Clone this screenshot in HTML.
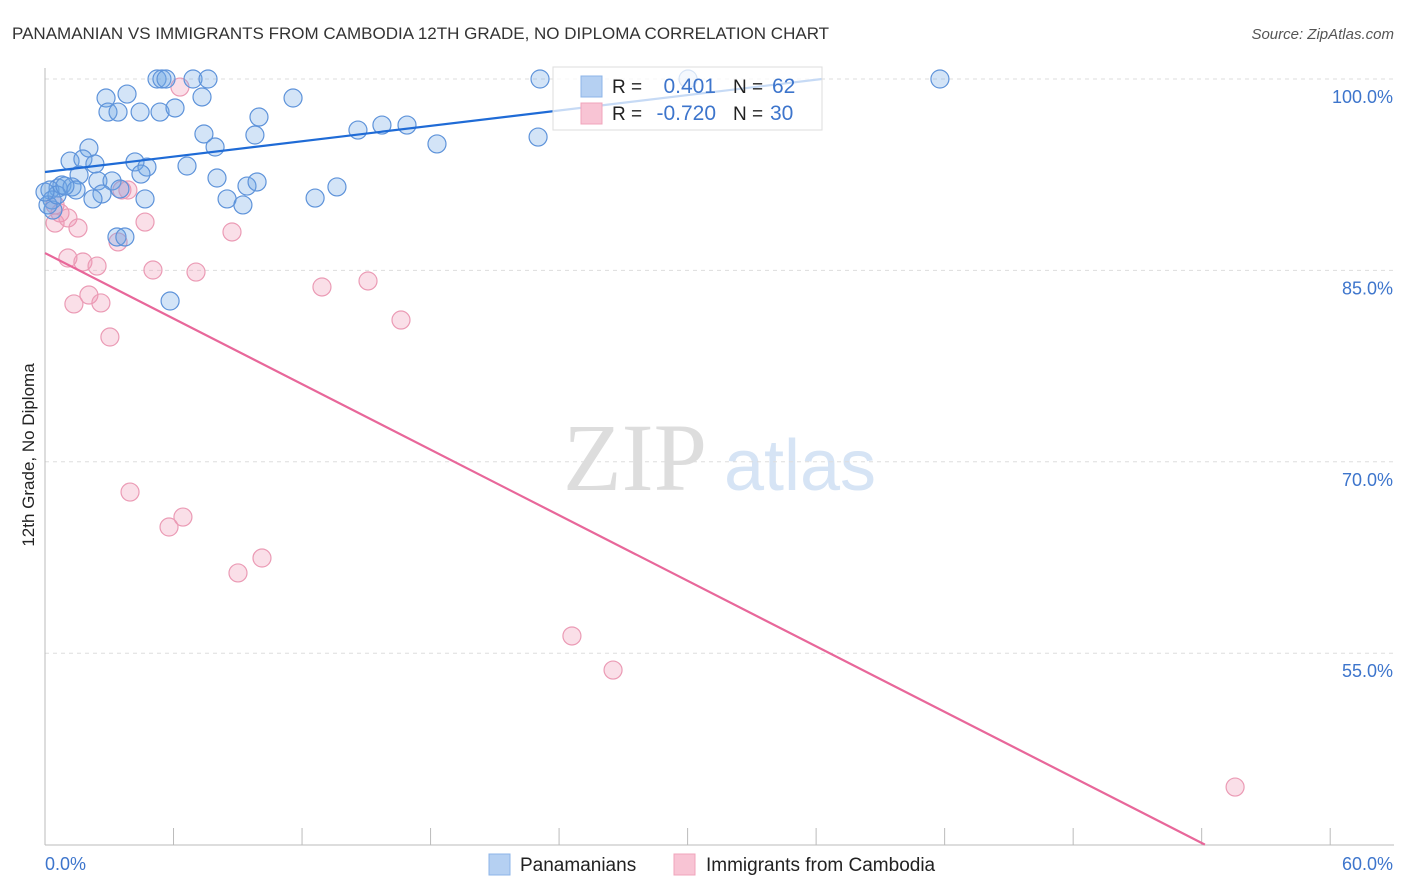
<!DOCTYPE html>
<html><head><meta charset="utf-8"><style>
body{margin:0;background:#fff;font-family:"Liberation Sans",sans-serif}
svg{display:block}
</style></head><body>
<svg id="chart" width="1406" height="892" xmlns="http://www.w3.org/2000/svg" font-family="Liberation Sans, sans-serif">
<text x="12" y="39" font-size="17" fill="#333">PANAMANIAN VS IMMIGRANTS FROM CAMBODIA 12TH GRADE, NO DIPLOMA CORRELATION CHART</text>
<text x="1394" y="39" font-size="15" fill="#555" font-style="italic" text-anchor="end">Source: ZipAtlas.com</text>
<text transform="translate(34,455) rotate(-90)" font-size="17" fill="#222" text-anchor="middle">12th Grade, No Diploma</text>
<g>
<text x="635" y="490" font-size="96" fill="#ddd" font-family="Liberation Serif, serif" text-anchor="middle">ZIP</text>
<text x="800" y="490" font-size="72" fill="#d6e4f5" text-anchor="middle">atlas</text>
</g>
<g id="grid"></g><g id="axes"></g><g id="marks"></g>
<g>
<rect x="553" y="67" width="269" height="63" fill="#fff" fill-opacity="0.75" stroke="#ddd"/>
<rect x="581" y="76" width="21" height="21" fill="#b5d0f2" stroke="#8db4e8"/>
<rect x="581" y="103" width="21" height="21" fill="#f8c4d4" stroke="#f0a4bb"/>
<text x="612" y="93" font-size="19" fill="#222">R = </text><text x="716" y="93" font-size="21" fill="#3d75cc" text-anchor="end">0.401</text>
<text x="733" y="93" font-size="19" fill="#222">N = </text><text x="772" y="93" font-size="21" fill="#3d75cc">62</text>
<text x="612" y="120" font-size="19" fill="#222">R = </text><text x="716" y="120" font-size="21" fill="#3d75cc" text-anchor="end">-0.720</text>
<text x="733" y="120" font-size="19" fill="#222">N = </text><text x="770" y="120" font-size="21" fill="#3d75cc">30</text>
</g>
<g>
<rect x="489" y="854" width="21" height="21" fill="#b5d0f2" stroke="#8db4e8"/>
<text x="520" y="871" font-size="19" fill="#222">Panamanians</text>
<rect x="674" y="854" width="21" height="21" fill="#f8c4d4" stroke="#f0a4bb"/>
<text x="706" y="871" font-size="19" fill="#222">Immigrants from Cambodia</text>
</g>
</svg>
<script>
const blueX=[5.23,5.46,5.65,6.91,7.61,23.11,30.02,41.78,2.85,3.83,11.58,2.94,3.41,4.44,5.37,6.07,7.33,9.99,7.42,9.80,14.61,15.73,16.90,18.30,23.02,7.94,2.05,1.17,1.77,2.33,4.20,4.76,6.63,4.48,1.59,0.61,0.79,1.26,2.47,3.13,3.50,1.45,2.66,2.24,8.03,9.43,9.90,12.61,13.63,4.67,8.50,9.24,3.36,3.73,5.84,0.23,0.33,0.37,0.14,0.56,0.93,0.0];
const blueY=[100,100,100,100,100,100,100,100,98.51,98.82,98.51,97.41,97.41,97.41,97.41,97.73,98.59,97.02,95.69,95.61,96.00,96.39,96.39,94.91,95.45,94.67,94.59,93.57,93.73,93.34,93.50,93.10,93.18,92.55,92.48,91.46,91.69,91.54,92.01,92.01,91.38,91.30,90.99,90.60,92.24,91.61,91.93,90.67,91.54,90.60,90.60,90.13,87.62,87.62,82.60,91.30,90.52,89.73,90.13,90.91,91.61,91.14];
const pinkX=[6.30,0.47,0.70,0.47,1.07,1.54,3.59,3.87,4.67,8.73,3.41,1.07,1.77,2.43,5.04,7.05,12.93,15.08,16.62,2.05,1.35,2.61,3.03,3.97,6.44,5.79,9.01,10.13,24.60,26.52,55.56];
const pinkY=[99.37,90.13,89.50,88.71,89.11,88.32,91.30,91.30,88.79,88.01,87.23,85.97,85.66,85.34,85.03,84.87,83.70,84.17,81.11,83.07,82.37,82.45,79.78,67.63,65.67,64.89,61.29,62.46,56.35,53.68,44.51];
const blueTrend=[[0,92.71],[36.27,100]];
const pinkTrend=[[0,86.36],[54.15,40]];
const yTicks=[100,85,70,55];
const yTickLabels=["100.0%","85.0%","70.0%","55.0%"];
const xTicks=[0,6,12,18,24,30,36,42,48,54,60];
const NS="http://www.w3.org/2000/svg";
const sx=v=>45+v*21.42, sy=v=>79+(100-v)*12.76;
function mk(p,t,a){const e=document.createElementNS(NS,t);for(const k in a)e.setAttribute(k,a[k]);p.appendChild(e);return e;}
const grid=document.getElementById('grid'),axes=document.getElementById('axes'),marks=document.getElementById('marks');
yTicks.forEach((v,i)=>{
 const l=mk(grid,'line',{x1:45,x2:1394,y1:sy(v),y2:sy(v),stroke:'#ddd','stroke-dasharray':'4 4'});
 
 
 const t=mk(axes,'text',{x:1393,y:sy(v)+24,'font-size':18,fill:'#3d75cc','text-anchor':'end'});t.textContent=yTickLabels[i];
 
 
});
const ya=mk(axes,'line',{x1:45,x2:45,y1:68,y2:845,stroke:'#bbb'});


const xa=mk(axes,'line',{x1:45,x2:1394,y1:845,y2:845,stroke:'#bbb'});


xTicks.forEach(v=>{const t=mk(axes,'line',{x1:sx(v),x2:sx(v),y1:828,y2:845,stroke:'#bbb'});
 
 });
const x0=mk(axes,'text',{x:45,y:870,'font-size':18,fill:'#3d75cc'});x0.textContent='0.0%';


const x1=mk(axes,'text',{x:1393,y:870,'font-size':18,fill:'#3d75cc','text-anchor':'end'});x1.textContent='60.0%';


pinkX.forEach((x,i)=>{const c=mk(marks,'circle',{cx:sx(x),cy:sy(pinkY[i]),r:9,fill:'rgba(240,150,180,0.3)',stroke:'#eb9bb5','stroke-width':1.2});
 
 });
blueX.forEach((x,i)=>{const c=mk(marks,'circle',{cx:sx(x),cy:sy(blueY[i]),r:9,fill:'rgba(110,165,230,0.3)',stroke:'#5e93da','stroke-width':1.2});
 
 });
const bl=mk(marks,'line',{x1:sx(blueTrend[0][0]),y1:sy(blueTrend[0][1]),x2:sx(blueTrend[1][0]),y2:sy(blueTrend[1][1]),stroke:'#1f6bd6','stroke-width':2.2});


const pl=mk(marks,'line',{x1:sx(pinkTrend[0][0]),y1:sy(pinkTrend[0][1]),x2:sx(pinkTrend[1][0]),y2:sy(pinkTrend[1][1]),stroke:'#e8679a','stroke-width':2.2});


</script>
</body></html>
